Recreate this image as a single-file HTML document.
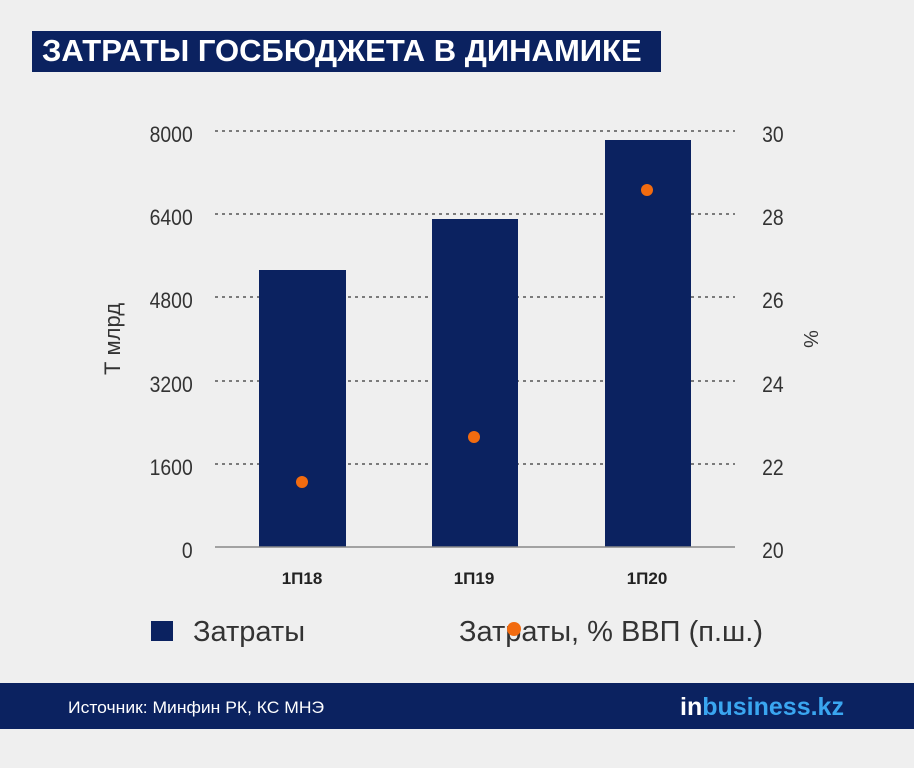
<!DOCTYPE html>
<html><head><meta charset="utf-8"><style>
body{margin:0;width:914px;height:768px;background:#efefef;font-family:"Liberation Sans",sans-serif;overflow:hidden;position:relative}
div{position:absolute}
</style></head><body>
<div style="left:32px;top:31px;width:629px;height:41px;background:#0b2260"></div>
<div style="left:42px;top:33px;color:#fff;font-weight:bold;font-size:31px;transform:scaleX(1.0);transform-origin:left top;white-space:nowrap">ЗАТРАТЫ ГОСБЮДЖЕТА В ДИНАМИКЕ</div>
<svg width="914" height="768" style="position:absolute;left:0;top:0" font-family="Liberation Sans, sans-serif">
<g stroke="#555" stroke-width="1.5" stroke-dasharray="3,4">
<line x1="215" x2="735" y1="131" y2="131"/><line x1="215" x2="735" y1="214" y2="214"/>
<line x1="215" x2="735" y1="297" y2="297"/><line x1="215" x2="735" y1="381" y2="381"/>
<line x1="215" x2="735" y1="464" y2="464"/></g>
<g fill="#0b2260"><rect x="259" y="270" width="87" height="277"/><rect x="432" y="219" width="86" height="328"/><rect x="605" y="140" width="86" height="407"/></g>
<line x1="215" x2="735" y1="547" y2="547" stroke="#888" stroke-width="1.5"/>
<g fill="#f26b0f"><circle cx="302" cy="482" r="6"/><circle cx="474" cy="437" r="6"/><circle cx="647" cy="190" r="6"/></g>
<g font-size="22" fill="#333" text-anchor="end" transform="scale(0.88,1)">
<text x="219" y="142">8000</text><text x="219" y="225">6400</text><text x="219" y="308">4800</text><text x="219" y="392">3200</text><text x="219" y="475">1600</text><text x="219" y="558">0</text></g>
<g font-size="22" fill="#333" transform="scale(0.88,1)">
<text x="866" y="142">30</text><text x="866" y="225">28</text><text x="866" y="308">26</text><text x="866" y="392">24</text><text x="866" y="475">22</text><text x="866" y="558">20</text></g>
<text transform="translate(120,339) rotate(-90)" text-anchor="middle" font-size="22" fill="#333">Т млрд</text>
<text transform="translate(804,339) rotate(90)" text-anchor="middle" font-size="20" fill="#333">%</text>
<g font-size="17" font-weight="bold" fill="#222" text-anchor="middle"><text x="302" y="584">1П18</text><text x="474" y="584">1П19</text><text x="647" y="584">1П20</text></g>
<rect x="151" y="621" width="22" height="20" fill="#0b2260"/>
<text x="193" y="641" font-size="29" fill="#333" transform="translate(0,0) scale(1,1)">Затраты</text>
<text x="459" y="641" font-size="29" fill="#333">Затраты, % ВВП (п.ш.)</text>
<circle cx="514" cy="629" r="7" fill="#f26b0f"/>
<rect x="0" y="683" width="914" height="46" fill="#0b2260"/>
<text x="68" y="713" font-size="17" fill="#fff" transform="translate(-2,0) scale(1.03,1)">Источник: Минфин РК, КС МНЭ</text>
<text x="680" y="715" font-size="25" font-weight="bold" fill="#3aa6f0"><tspan fill="#fff">in</tspan>business.kz</text>
</svg>
</body></html>
